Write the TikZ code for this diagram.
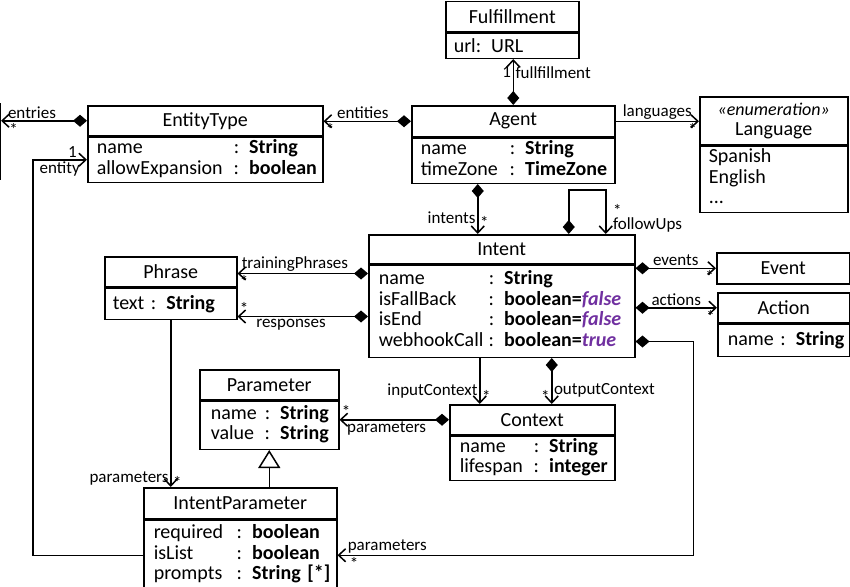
\documentclass[tikz,border=0pt]{standalone}
\usepackage{fontspec}
\setmainfont{Carlito}
\usepackage{xcolor}
\usepackage{tikz}
\usetikzlibrary{arrows.meta}
\definecolor{dfpurple}{HTML}{7030A0}

\begin{document}
\begin{tikzpicture}[x=1pt, y=-1pt, line width=1.5pt,
  cls/.style={draw, inner sep=0pt, anchor=north west, align=center, font=\fontsize{20}{20.5}\selectfont},
  attr/.style={draw, inner sep=0pt, anchor=north west, align=left, font=\fontsize{20}{20.5}\selectfont},
  lbl/.style={font=\fontsize{17}{17}\selectfont, inner sep=1.5pt},
  assoc/.style={-{Straight Barb[length=7pt,width=13pt]}},
  comp/.style={{Diamond[length=14pt,width=12pt]}-{Straight Barb[length=7pt,width=13pt]}},
  gen/.style={-{Triangle[open,length=18pt,width=22pt]}}]
\useasboundingbox (0,0) rectangle (850,586);

\node[draw, anchor=north east, minimum width=60pt, minimum height=75pt] (entry) at (1,103) {};

\node[cls, minimum width=133pt, minimum height=30pt] (fulfil) at (445,1) {Fulfillment};
\node[attr, text width=133pt, minimum height=25pt] (fulfilB) at (fulfil.south west) {\hspace*{8pt}url: URL};

\node[cls, minimum width=203pt, minimum height=31pt] (agent) at (411,105) {Agent};
\node[attr, text width=203pt, minimum height=45pt] (agentB) at (agent.south west) {\begin{tabular}{@{\hspace{9pt}}p{89pt}@{}l@{}}
name & : \textbf{String}\\ timeZone & : \textbf{TimeZone}\end{tabular}};

\node[cls, minimum width=235pt, minimum height=30pt] (entity) at (87,105) {EntityType};
\node[attr, text width=235pt, minimum height=45pt] (entityB) at (entity.south west) {\begin{tabular}{@{\hspace{9pt}}p{137pt}@{}l@{}}
name & : \textbf{String}\\ allowExpansion & : \textbf{boolean}\end{tabular}};

\node[cls, minimum width=148pt, minimum height=48pt] (lang) at (699,96) {{\fontsize{18}{19}\selectfont\itshape «enumeration»}\\Language};
\node[attr, text width=148pt, minimum height=66pt] (langB) at (lang.south west) {\begin{tabular}{@{\hspace{9pt}}l@{}}
Spanish\\ English\\ ...\end{tabular}};

\node[cls, minimum width=266pt, minimum height=29pt] (intent) at (368,234) {Intent};
\node[attr, text width=266pt, minimum height=92pt] (intentB) at (intent.south west) {\begin{tabular}{@{\hspace{10pt}}p{110pt}@{}l@{}}
name & : \textbf{String}\\
isFallBack & : \textbf{boolean=\textcolor{dfpurple}{\textit{false}}}\\
isEnd & : \textbf{boolean=\textcolor{dfpurple}{\textit{false}}}\\
webhookCall & : \textbf{boolean=\textcolor{dfpurple}{\textit{true}}}\end{tabular}};

\node[cls, minimum width=132pt, minimum height=30pt] (phrase) at (104,256) {Phrase};
\node[attr, text width=132pt, minimum height=31pt] (phraseB) at (phrase.south west) {\hspace*{8pt}text : \textbf{String}};

\node[cls, minimum width=133pt, minimum height=31pt] (event) at (716,252) {Event};

\node[cls, minimum width=132pt, minimum height=30pt] (action) at (717,292) {Action};
\node[attr, text width=132pt, minimum height=32pt] (actionB) at (action.south west) {\hspace*{10pt}name : \textbf{String}};

\node[cls, minimum width=139pt, minimum height=30pt] (param) at (199,369) {Parameter};
\node[attr, text width=139pt, minimum height=48pt] (paramB) at (param.south west) {\begin{tabular}{@{\hspace{11pt}}p{54pt}@{}l@{}}
name & : \textbf{String}\\ value & : \textbf{String}\end{tabular}};

\node[cls, minimum width=165pt, minimum height=30pt] (context) at (449,404) {Context};
\node[attr, text width=165pt, minimum height=44pt] (contextB) at (context.south west) {\begin{tabular}{@{\hspace{10pt}}p{74pt}@{}l@{}}
name & : \textbf{String}\\ lifespan & : \textbf{integer}\end{tabular}};

\node[cls, minimum width=193pt, minimum height=31pt] (ip) at (143,487) {IntentParameter};
\node[attr, text width=193pt, minimum height=70pt] (ipB) at (ip.south west) {\begin{tabular}{@{\hspace{10pt}}p{83pt}@{}l@{}}
required & : \textbf{boolean}\\ isList & : \textbf{boolean}\\ prompts & : \textbf{String [*]}\end{tabular}};

\draw[comp] (agent.north) -- node[lbl, pos=0.71, left]{1} node[lbl, pos=0.71, right]{fullfillment} (agent.north |- fulfilB.south);
\draw[assoc] (agent.east) -- node[lbl, above]{languages} node[lbl, pos=1, below left]{*} (agent.east -| lang.west);
\draw[comp] (agent.west) -- node[lbl, pos=0.55, above]{entities} node[lbl, pos=1, below right]{*} (agent.west -| entity.east);
\draw[comp] (entity.west) -- node[lbl, pos=0.64, above]{entries} node[lbl, pos=1, below right, xshift=6pt]{*} (entity.west -| entry.east);

\draw[assoc] (ipB.west) -- ++(-110,0) |- (entityB.west);
\node[lbl, anchor=south east, xshift=-8pt] (entOne) at (entityB.west) {1};
\node[lbl, anchor=north east, xshift=-5pt] (entName) at (entityB.west) {entity};

\draw[comp] ([xshift=-35.5pt]agentB.south) -- node[lbl, pos=0.68, left]{intents} node[lbl, pos=0.77, right]{*} ([xshift=-35.5pt]agentB.south |- intent.north);
\draw[comp] ([xshift=67pt]intent.north) -- ++(0,-44) -| ([xshift=104pt]intent.north);
\node[lbl, anchor=south west, align=left, xshift=5pt, font=\fontsize{17}{10}\selectfont] (fuName) at ([xshift=104pt]intent.north) {*\\followUps};

\draw[comp] ([yshift=-9pt]intent.south west) -- node[lbl, pos=0.56, above]{trainingPhrases} node[lbl, pos=1, below right]{*} ([yshift=-9pt]intent.south west -| phrase.east);
\draw[comp] ([yshift=-52pt]intent.south west) -- node[lbl, pos=0.59, below]{responses} node[lbl, pos=1, above right]{*} ([yshift=-52pt]intent.south west -| phraseB.east);

\draw[comp] (event.west -| intentB.east) -- node[lbl, above]{events} node[lbl, pos=1, below left]{*} (event.west);
\draw[comp] (action.west -| intentB.east) -- node[lbl, above]{actions} node[lbl, pos=1, below left]{*} (action.west);
\draw[comp] ([yshift=-77pt]intent.south east) -- ++(58,0) |- node[lbl, pos=1, above right, xshift=8pt]{parameters} node[lbl, pos=1, below right, xshift=10pt]{*} (ipB.east);

\draw[assoc] ([xshift=-22pt]intentB.south) -- node[lbl, pos=0.71, left]{inputContext} node[lbl, pos=0.84, right]{*} ([xshift=-22pt]intentB.south |- context.north);
\draw[comp] ([xshift=50pt]intentB.south) -- node[lbl, pos=0.84, left]{*} node[lbl, pos=0.71, right]{outputContext} ([xshift=50pt]intentB.south |- context.north);
\draw[comp] (context.west) -- node[lbl, pos=0.57, below]{parameters} node[lbl, pos=1, above right]{*} (context.west -| paramB.east);

\draw[assoc] (phraseB.south) -- node[lbl, pos=0.95, left]{parameters} node[lbl, pos=0.97, right]{*} (phraseB.south |- ip.north);
\draw[gen] (paramB.south |- ip.north) -- (paramB.south);
\end{tikzpicture}
\end{document}
